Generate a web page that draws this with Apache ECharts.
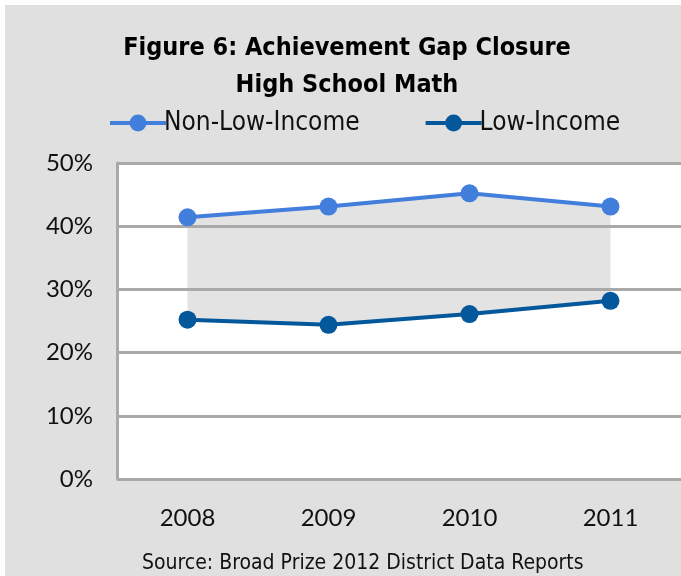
<!DOCTYPE html>
<html>
<head>
<meta charset="utf-8">
<script src="https://cdn.jsdelivr.net/npm/echarts@6/dist/echarts.min.js"></script>
<style>
  html, body { margin: 0; padding: 0; background: #ffffff; }
  #chart { width: 681px; height: 576px; }
</style>
</head>
<body>
<div id="chart"></div>
<script>
// School years on the category axis
const years = ['2008', '2009', '2010', '2011'];
// Percent proficient, high school math
const nonLowIncome = [41.4, 43.1, 45.2, 43.1];
const lowIncome = [25.2, 24.4, 26.1, 28.2];
// Value axis ticks (percent)
const yTicks = [0, 10, 20, 30, 40, 50];

const titleText = 'Figure 6: Achievement Gap Closure\nHigh School Math';
const sourceText = 'Source: Broad Prize 2012 District Data Reports';

// Gap band = distance between the two groups, stacked on top of the low-income values
const gapBand = nonLowIncome.map((v, i) => +(v - lowIncome[i]).toFixed(2));

const colNon = '#427edc';
const colLow = '#03579b';
const gridCol = '#a9a9a9';

const chart = echarts.init(document.getElementById('chart'), null, { renderer: 'canvas' });

chart.setOption({
  backgroundColor: '#ffffff',
  animation: false,
  graphic: [
    { type: 'rect', z: -10, shape: { x: 5, y: 5, width: 676, height: 571 }, style: { fill: '#e0e0e0' } },
    {
      type: 'text', z: 10, left: 142, top: 553,
      style: {
        text: sourceText,
        font: '21px "DejaVu Sans Condensed", sans-serif', fill: '#111111'
      }
    }
  ],
  title: {
    text: titleText,
    left: 342, top: 25, textAlign: 'center',
    textStyle: {
      fontFamily: '"DejaVu Sans Condensed", sans-serif',
      fontWeight: 'bold', fontSize: 25, lineHeight: 37, color: '#000000'
    }
  },
  legend: {
    data: ['Non-Low-Income', 'Low-Income'],
    left: 103, top: 105,
    itemWidth: 56, itemHeight: 21, itemGap: 64,
    lineStyle: { width: 4 },
    textStyle: {
      fontFamily: '"DejaVu Sans Condensed", sans-serif',
      fontSize: 26, color: '#111111', padding: [0, 0, 0, -7]
    }
  },
  grid: {
    left: 117, top: 163, right: -2, bottom: 97,
    show: true, backgroundColor: '#ffffff', borderWidth: 0
  },
  xAxis: {
    type: 'category', data: years, boundaryGap: true,
    axisLine: { show: false }, axisTick: { show: false },
    axisLabel: {
      margin: 27, color: '#111111',
      fontFamily: 'Lato, sans-serif', fontSize: 24
    }
  },
  yAxis: {
    type: 'value', min: yTicks[0], max: yTicks[yTicks.length - 1], interval: 10,
    z: 3,
    axisLine: { show: true, lineStyle: { color: gridCol, width: 3 } },
    axisTick: { show: false },
    splitLine: { show: true, lineStyle: { color: gridCol, width: 3 } },
    axisLabel: {
      margin: 24, color: '#111111',
      fontFamily: 'Lato, sans-serif', fontSize: 24,
      formatter: v => v + '%'
    }
  },
  series: [
    {
      name: 'base', type: 'line', stack: 'gap', data: lowIncome,
      symbol: 'none', lineStyle: { opacity: 0 }, z: 2, silent: true
    },
    {
      name: 'gap', type: 'line', stack: 'gap', data: gapBand,
      symbol: 'none', lineStyle: { opacity: 0 }, z: 2, silent: true,
      areaStyle: { color: 'rgba(0,0,0,0.11)', opacity: 1 }
    },
    {
      name: 'Non-Low-Income', type: 'line', data: nonLowIncome, z: 5,
      symbol: 'circle', symbolSize: 18,
      lineStyle: { color: colNon, width: 4 },
      itemStyle: { color: colNon }
    },
    {
      name: 'Low-Income', type: 'line', data: lowIncome, z: 5,
      symbol: 'circle', symbolSize: 18,
      lineStyle: { color: colLow, width: 4 },
      itemStyle: { color: colLow }
    }
  ]
});
</script>
</body>
</html>
